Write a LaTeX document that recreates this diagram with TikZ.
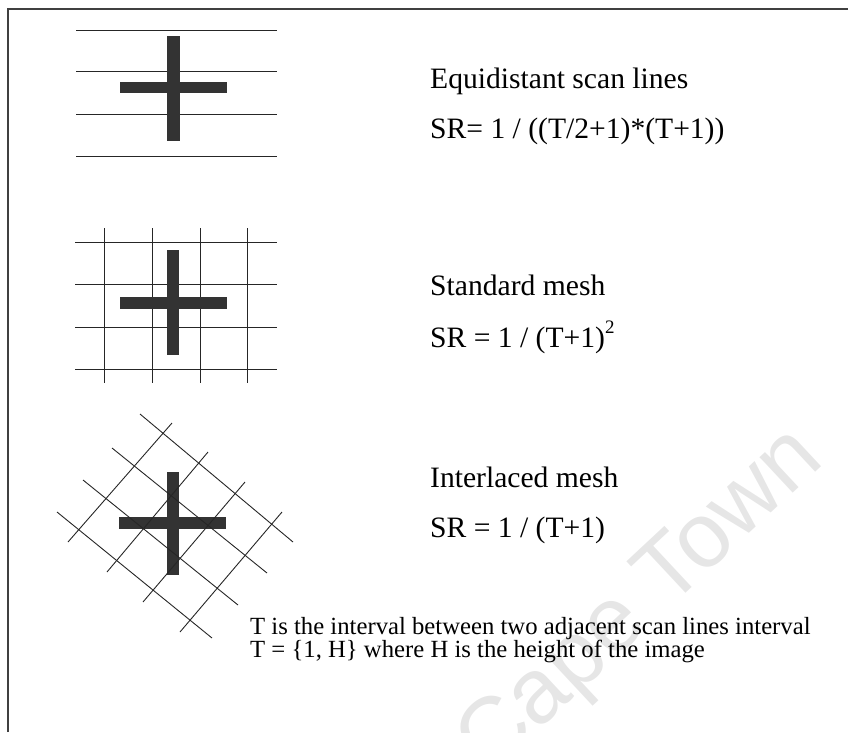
\documentclass[tikz,border=0pt]{standalone}
\usepackage{fontspec}
\setmainfont{Liberation Serif}
\newfontfamily\wmfont{Liberation Sans}
\definecolor{crossgray}{HTML}{333333}
\definecolor{wmgray}{HTML}{E6E6E6}
\begin{document}
\begin{tikzpicture}[x=1pt,y=-1pt,
  gridline/.style={line width=0.9pt,black!85},
  framebar/.style={line width=2pt,black!75},
  crossbar/.style={fill=crossgray,draw=none},
  bigtext/.style={anchor=base west,inner sep=0pt,font=\fontsize{29.6}{30}\selectfont},
  smalltext/.style={anchor=base west,inner sep=0pt,align=left,font=\fontsize{24.7}{23}\selectfont},
  watermark/.style={inner sep=0pt,text=wmgray,font=\wmfont\fontsize{92}{92}\selectfont}]
\useasboundingbox (0,0) rectangle (848,732);
% watermark
\node[watermark,rotate=43] (wm) at (642,603) {Cape Town};
% frame
\coordinate (fr0) at (8,732);
\coordinate (fr1) at (8,8.5);
\coordinate (fr2) at (848,8.5);
\draw[framebar] (fr0) -- (fr1) -- (fr2);
% panel 1: equidistant scan lines
\foreach \yy in {30.7,71.7,114.3,156.3}
  \draw[gridline] (76,\yy) -- (277,\yy);
\fill[crossbar] (167.3,36) rectangle (180,140.7);
\fill[crossbar] (120,81.7) rectangle (227.3,93.3);
% panel 2: standard mesh
\foreach \yy in {242,284.3,327,369.3}
  \draw[gridline] (75,\yy) -- (277,\yy);
\foreach \xx in {104.3,152.3,200,247.7}
  \draw[gridline] (\xx,228) -- (\xx,383);
\fill[crossbar] (167,250) rectangle (179.3,355);
\fill[crossbar] (120,297.3) rectangle (226.7,308.7);
% panel 3: interlaced mesh
\fill[crossbar] (167,471.7) rectangle (179.3,575);
\fill[crossbar] (119.3,517.3) rectangle (226,529);
\draw[gridline] (140,414) -- (293,542);
\draw[gridline] (112,448) -- (267,573);
\draw[gridline] (83,480) -- (238,605);
\draw[gridline] (57,512) -- (212,638);
\draw[gridline] (68,542) -- (172,423);
\draw[gridline] (107,572) -- (208,452);
\draw[gridline] (143,602) -- (245,482);
\draw[gridline] (180,632) -- (282,512);
% texts
\node[bigtext] (t1) at (430,88) {Equidistant scan lines};
\node[bigtext] (f1) at (430,138) {SR= 1 / ((T/2+1)*(T+1))};
\node[bigtext] (t2) at (430,295) {Standard mesh};
\node[bigtext] (f2) at (430,347) {SR = 1 / (T+1)\raisebox{0.45em}{\fontsize{19}{19}\selectfont 2}};
\node[bigtext] (t3) at (430,487) {Interlaced mesh};
\node[bigtext] (f3) at (430,537) {SR = 1 / (T+1)};
\node[smalltext] (n1) at (250,657) {T is the interval between two adjacent scan lines interval\\T = \{1, H\} where H is the height of the image};
\end{tikzpicture}
\end{document}
